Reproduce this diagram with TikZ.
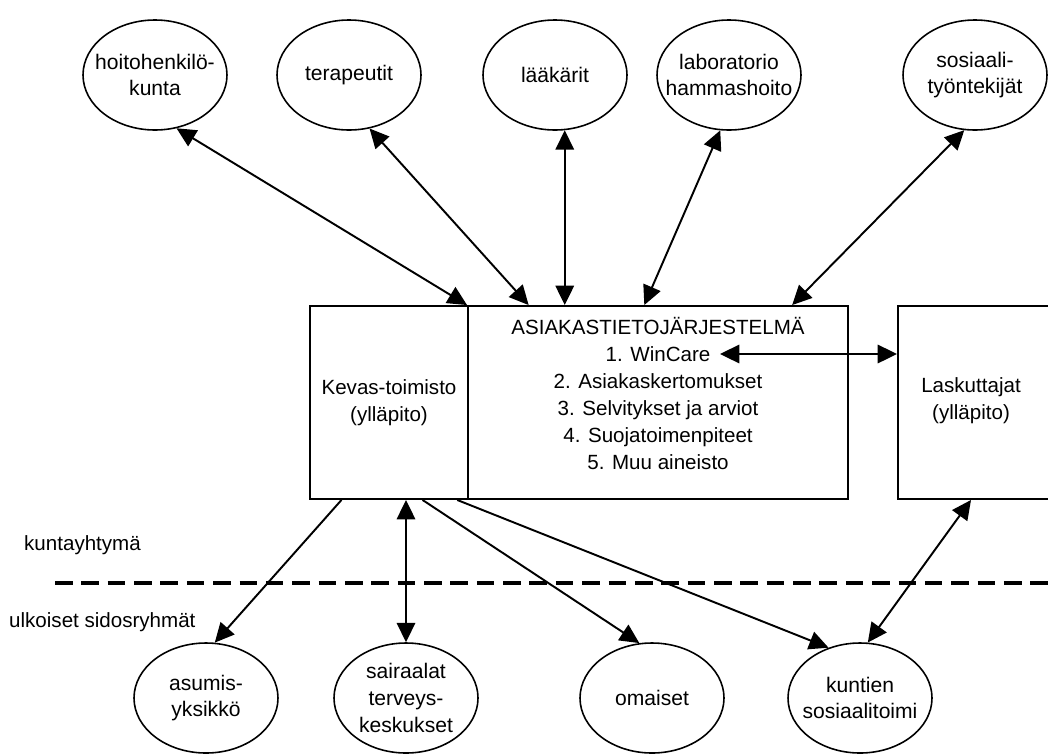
\documentclass[tikz,border=0pt]{standalone}
\usepackage{fontspec}
\setmainfont{Liberation Sans}
\usetikzlibrary{shapes.geometric,arrows.meta}

\begin{document}
\begin{tikzpicture}[x=0.2mm,y=-0.2mm,>={Triangle[length=11pt,width=10.5pt]},
    link/.style={line width=1.1pt},every node/.style={font=\fontsize{11.7}{15.3}\selectfont}]
    \tikzstyle{group}=[ellipse,draw,line width=0.9pt,minimum width=2.88cm,minimum height=2.2cm,
        inner xsep=-4mm,inner ysep=0pt,align=center,font=\fontsize{12}{15.3}\selectfont]
    \tikzstyle{unit}=[rectangle,draw,line width=1.1pt,minimum height=3.86cm,align=center]

    \useasboundingbox (0,0) rectangle (1048,754);

    \node[group] (hoito) at (155,75) {hoitohenkilö-\\kunta};
    \node[group] (terap) at (349,75) {terapeutit};
    \node[group] (laak) at (555,75) {lääkärit};
    \node[group] (labo) at (729,75) {laboratorio\\hammashoito};
    \node[group] (sosi) at (975,75) {sosiaali-\\työntekijät};

    \node[unit,minimum width=3.16cm] (kevas) at (389,402.5) {Kevas-toimisto\\(ylläpito)};
    \node[unit,minimum width=7.6cm] (asia) at (658,402.5) {};
    \node[anchor=north,inner sep=0pt,align=center] (asiatxt) at (658,317)
        {ASIAKASTIETOJÄRJESTELMÄ\\1. WinCare\\2. Asiakaskertomukset\\3. Selvitykset ja arviot\\4. Suojatoimenpiteet\\5. Muu aineisto};
    \node[unit,minimum width=3.6cm,anchor=west] (lask) at (897,402.5) {};
    \node[align=center] (lasktxt) at (971,401) {Laskuttajat\\(ylläpito)};
    \coordinate (wincare) at (720,354);

    \node[anchor=west] (kunta) at (18,545) {kuntayhtymä};
    \node[anchor=west] (ulko) at (3,622) {ulkoiset sidosryhmät};
    \draw[line width=2.3pt,dash pattern=on 10pt off 5pt] (55,583) -- (1048,583);

    \node[group] (asum) at (206,698) {asumis-\\yksikkö};
    \node[group] (sair) at (406,698) {sairaalat\\terveys-\\keskukset};
    \node[group] (omai) at (652,698) {omaiset};
    \node[group] (kunt) at (860,698) {kuntien\\sosiaalitoimi};

    \draw[link,<->] (hoito.-68) -- (asia.north west);
    \draw[link,<->] (terap.-69) -- (asia.143.6);
    \draw[link,<->] (laak.-80) -- (laak.-80 |- asia.north);
    \draw[link,<->] (labo.-99) -- (asia.98.8);
    \draw[link,<->] (sosi.-101) -- (asia.36.8);
    \draw[link,<->] (wincare) -- (wincare -| lask.west);

    \draw[link,->] (kevas.-116) -- (asum.81);
    \draw[link,<->] (kevas.south -| sair.north) -- (sair.north);
    \draw[link,->] (kevas.-71) -- (omai.103);
    \draw[link,->] (kevas.-55) -- (kunt.122);
    \draw[link,<->] (lasktxt.south |- lask.south) -- (kunt.82);

\end{tikzpicture}
\end{document}
